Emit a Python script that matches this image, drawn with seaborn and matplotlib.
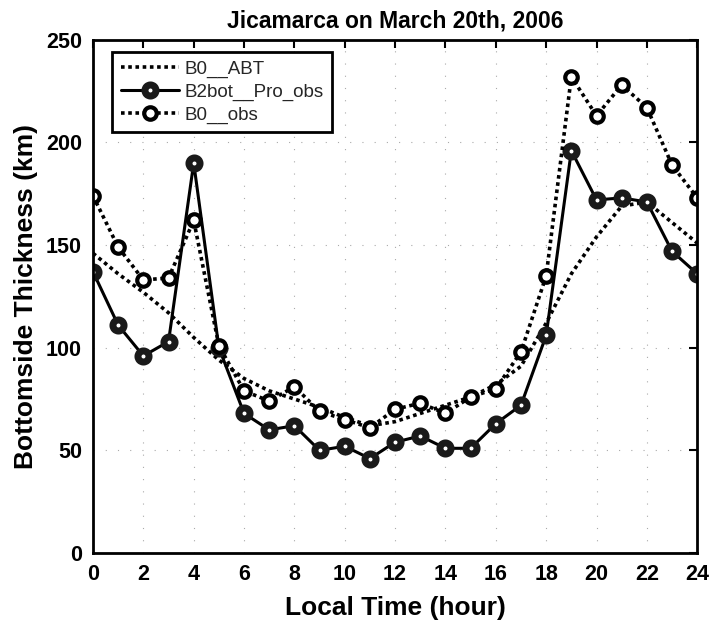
import matplotlib
matplotlib.use("Agg")
import matplotlib.pyplot as plt
import seaborn as sns
import pandas as pd

hours = list(range(0, 25))
b0_abt = [146, 136, 127, 117, 105, 94, 85, 79, 75, 71, 66, 62, 64, 68, 72, 76, 82, 91, 112, 136, 154, 169, 171, 161, 151]
b2bot_pro_obs = [137, 111, 96, 103, 190, 100, 68, 60, 62, 50, 52, 46, 54, 57, 51, 51, 63, 72, 106, 196, 172, 173, 171, 147, 136]
b0_obs = [174, 149, 133, 134, 162, 101, 79, 74, 81, 69, 65, 61, 70, 73, 68, 76, 80, 98, 135, 232, 213, 228, 217, 189, 173]
series_names = ["B0__ABT", "B2bot__Pro_obs", "B0__obs"]
title = "Jicamarca on March 20th, 2006"
xlabel = "Local Time (hour)"
ylabel = "Bottomside Thickness (km)"
xticks = list(range(0, 25, 2))
yticks = list(range(0, 251, 50))

df = pd.DataFrame({
    "hour": hours * 3,
    "value": b0_abt + b2bot_pro_obs + b0_obs,
    "series": [series_names[0]] * 25 + [series_names[1]] * 25 + [series_names[2]] * 25,
})

sns.set_theme(style="white")
plt.rcParams['font.family'] = ['Liberation Sans', 'DejaVu Sans']

fig = plt.figure(figsize=(7.10, 6.32), dpi=100)
ax = fig.add_axes([0.131, 0.125, 0.851, 0.812])

sns.lineplot(data=df[df.series == series_names[0]], x="hour", y="value", ax=ax,
             color="black", linestyle=(0, (1, 1)), linewidth=2.6, label=series_names[0])
sns.lineplot(data=df[df.series == series_names[1]], x="hour", y="value", ax=ax,
             color="black", linestyle="-", linewidth=2.2, marker="o", markersize=8,
             markerfacecolor="white", markeredgecolor="#1a1a1a", markeredgewidth=5.0,
             label=series_names[1])
sns.lineplot(data=df[df.series == series_names[2]], x="hour", y="value", ax=ax,
             color="black", linestyle=(0, (1, 1)), linewidth=2.6, marker="o", markersize=9,
             markerfacecolor="white", markeredgecolor="black", markeredgewidth=3.0,
             label=series_names[2])

ax.set_xlim(0, 24)
ax.set_ylim(0, 250)
ax.set_xticks(xticks)
ax.set_yticks(yticks)
ax.tick_params(direction="in", length=6, width=1.5, top=True, right=True,
               labelsize=15.5, colors="black", pad=8)
for lab in ax.get_xticklabels() + ax.get_yticklabels():
    lab.set_fontweight("bold")
ax.grid(True, linestyle=(0, (1, 10)), color="#aaaaaa", linewidth=0.8)
for s in ax.spines.values():
    s.set_visible(True)
    s.set_color("black")
    s.set_linewidth(2.0)

ax.set_xlabel(xlabel, fontsize=19, fontweight="bold", color="black", labelpad=8)
ax.set_ylabel(ylabel, fontsize=19, fontweight="bold", color="black", labelpad=6)
ax.set_title(title, fontsize=16.5, fontweight="bold", color="black", pad=9)

leg = ax.legend(loc="upper left", fontsize=13.5, frameon=True, fancybox=False,
                edgecolor="black", framealpha=1, borderpad=0.45, handlelength=3.1,
                labelspacing=0.3, borderaxespad=0.65, handletextpad=0.3,
                bbox_to_anchor=(0.012, 1.0))
leg.get_frame().set_linewidth(2.0)

fig.savefig("out.png", dpi=100)
